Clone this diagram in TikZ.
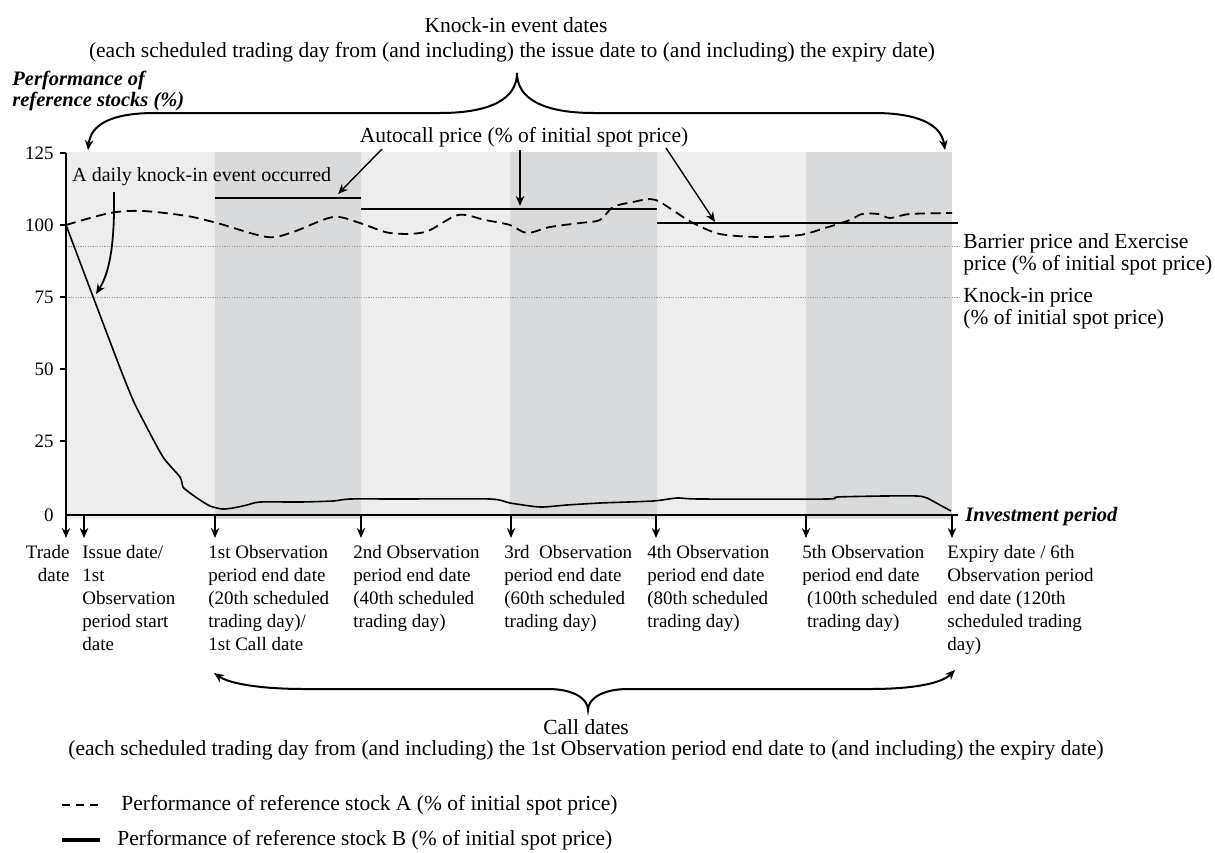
\documentclass[tikz,border=0pt]{standalone}
\usepackage{fontspec}
\setmainfont{Liberation Serif}
\usetikzlibrary{arrows.meta}
\definecolor{bglight}{HTML}{EDEDED}
\definecolor{bgdark}{HTML}{D9DADC}
\definecolor{dotgray}{HTML}{9A9A9A}
\begin{document}
\begin{tikzpicture}[x=0.5pt,y=-0.5pt,
  tip/.style={-{Stealth[length=5pt,width=4.2pt]}},
  bigtip/.style={line width=1pt,{Stealth[length=5pt,width=4.2pt]}-{Stealth[length=5pt,width=4.2pt]}},
  axisline/.style={line width=1pt},
  autoline/.style={line width=0.6pt},
  dotline/.style={dotgray,line width=0.45pt,dash pattern=on 0.6pt off 0.6pt},
  stockA/.style={line width=0.9pt,dash pattern=on 5pt off 2.8pt},
  stockB/.style={line width=0.8pt},
  toptext/.style={inner sep=0pt,font=\fontsize{10.75}{11.5}\selectfont},
  datelbl/.style={inner sep=0pt,anchor=north west,align=left,font=\fontsize{9.5}{11.5}\selectfont},
  ylbl/.style={inner sep=0pt,anchor=east,font=\fontsize{9.5}{11.5}\selectfont},
  bititle/.style={inner sep=0pt,font=\fontsize{10.25}{8.6}\selectfont\bfseries\itshape}]
\useasboundingbox (0,0) rectangle (1215,852);
% backgrounds
\fill[bglight] (66,152) rectangle (952,519);
\fill[bgdark] (215,152) rectangle (361,519);
\fill[bgdark] (510,152) rectangle (657,519);
\fill[bgdark] (806,152) rectangle (952,519);
% dotted price levels
\coordinate (barL) at (66,246);
\coordinate (barR) at (961,246);
\coordinate (kiL) at (66,297);
\coordinate (kiR) at (961,297);
\draw[dotline] (barL) -- (barR);
\draw[dotline] (kiL) -- (kiR);
% autocall lines
\coordinate (ac1a) at (215,198); \coordinate (ac1b) at (361,198);
\coordinate (ac2a) at (361,209); \coordinate (ac2b) at (657,209);
\coordinate (ac3a) at (657,223); \coordinate (ac3b) at (958,223);
\draw[autoline] (ac1a) -- (ac1b);
\draw[autoline] (ac2a) -- (ac2b);
\draw[autoline] (ac3a) -- (ac3b);
% stock A (dashed)
\draw[stockA] plot[smooth,tension=0.5] coordinates {(66,225) (110,213) (143,211) (187,216) (217,223) (267,237) (293,232) (333,217) (360,223) (390,233) (425,232) (458,215) (485,220) (510,225) (527,233) (550,227) (580,223) (600,220) (613,207) (633,202) (650,199) (660,202) (677,213) (693,223) (720,234) (760,237) (800,235) (825,228) (850,220) (862,214) (878,214) (890,218) (910,214) (952,213)};
% stock B (solid)
\draw[stockB] plot[smooth,tension=0.4] coordinates {(66,225) (117,360) (133,400) (143,420) (163,457) (180,477) (183,487) (190,493) (200,500) (210,506) (222,509) (233,508) (247,505) (260,502) (300,502) (333,501) (350,499) (400,499) (490,499) (510,503) (540,507) (567,505) (600,503) (653,501) (677,498) (700,499) (827,499) (837,497) (883,496) (917,496) (927,498) (940,505) (951,511)};
% axes
\coordinate (yaxTop) at (66,153);
\coordinate (origin) at (66,515);
\coordinate (xaxEnd) at (958,515);
\draw[axisline] (yaxTop) -- (origin) -- (xaxEnd);
\foreach \v/\yy in {125/153,100/225,75/297,50/369,25/441}{
  \coordinate (tk\v) at (60,\yy);
  \coordinate (tka\v) at (66,\yy);
  \draw[line width=0.8pt] (tk\v) -- (tka\v);
  \node[ylbl] (yl\v) at (54,\yy) {\v};
}
\node[ylbl] (yl0) at (54,515) {0};
\node[bititle,anchor=west] (invp) at (965,517) {Investment period};
\node[bititle,anchor=north west,align=left] (perf) at (12,71) {Performance of\\reference stocks (\%)};
% date arrows
\foreach \n/\xx in {0/66,1/84,2/215,3/361,4/511,5/656,6/806,7/952}{
  \coordinate (da\n) at (\xx,515);
  \coordinate (db\n) at (\xx,538);
  \draw[tip,line width=0.9pt] (da\n) -- (db\n);
}
% date labels
\node[datelbl,anchor=north east,align=right] (ltrade) at (70,545) {Trade\\date};
\node[datelbl] (lissue) at (82,545) {Issue date/\\1st\\Observation\\period start\\date};
\node[datelbl] (lobs1) at (208,545) {1st Observation\\period end date\\(20th scheduled\\trading day)/\\1st Call date};
\node[datelbl] (lobs2) at (353,545) {2nd Observation\\period end date\\(40th scheduled\\trading day)};
\node[datelbl] (lobs3) at (504,545) {3rd\hspace{0.25em} Observation\\period end date\\(60th scheduled\\trading day)};
\node[datelbl] (lobs4) at (647,545) {4th Observation\\period end date\\(80th scheduled\\trading day)};
\node[datelbl] (lobs5) at (802,545) {5th Observation\\period end date\\\hspace*{0.25em}(100th scheduled\\\hspace*{0.25em}trading day)};
\node[datelbl] (lexp) at (947,545) {Expiry date / 6th\\Observation period\\end date (120th\\scheduled trading\\day)};
% right labels
\node[toptext,anchor=north west,align=left,font=\fontsize{10.75}{11}\selectfont] (lbar) at (963,233) {Barrier price and Exercise\\price (\% of initial spot price)};
\node[toptext,anchor=north west,align=left,font=\fontsize{10.75}{9.6}\selectfont] (lki) at (963,287) {Knock-in price\\(\% of initial spot price)};
% knock-in event dates brace
\node[toptext] (kt1) at (516,25) {Knock-in event dates};
\node[toptext] (kt2) at (512,52) {(each scheduled trading day from (and including) the issue date to (and including) the expiry date)};
\coordinate (kbL) at (88,150);
\coordinate (kbT) at (517,73);
\coordinate (kbR) at (945,150);
\draw[bigtip] (kbL) .. controls (91,124) and (112,113) .. (155,113) -- (440,113) .. controls (492,113) and (517,98) .. (kbT) .. controls (517,98) and (542,113) .. (594,113) -- (874,113) .. controls (917,113) and (941,124) .. (kbR);
% autocall label and arrows
\node[toptext] (acl) at (524,137) {Autocall price (\% of initial spot price)};
\coordinate (aa1) at (382,149); \coordinate (ab1) at (338,194);
\coordinate (aa2) at (520,150); \coordinate (ab2) at (520,206);
\coordinate (aa3) at (666,148); \coordinate (ab3) at (715,222);
\draw[tip,line width=0.7pt] (aa1) -- (ab1);
\draw[tip,line width=1pt] (aa2) -- (ab2);
\draw[tip,line width=0.7pt] (aa3) -- (ab3);
% knock-in event annotation
\node[toptext,anchor=west,font=\fontsize{10}{11.5}\selectfont] (dki) at (72,177) {A daily knock-in event occurred};
\coordinate (dka) at (114,192);
\coordinate (dkb) at (96,294);
\draw[tip,line width=0.9pt] (dka) .. controls (115,250) and (108,275) .. (dkb);
% call dates brace
\coordinate (cbL) at (214,673);
\coordinate (cbT) at (588,710);
\coordinate (cbR) at (955,670);
\draw[bigtip] (cbL) .. controls (230,684) and (262,689) .. (305,689) -- (548,689) .. controls (574,689) and (588,699) .. (cbT) .. controls (588,699) and (602,689) .. (628,689) -- (870,689) .. controls (915,689) and (942,683) .. (cbR);
\node[toptext] (cd1) at (586,727) {Call dates};
\node[toptext] (cd2) at (586,750) {(each scheduled trading day from (and including) the 1st Observation period end date to (and including) the expiry date)};
% legend
\coordinate (lgA1) at (62,805); \coordinate (lgA2) at (99,805);
\coordinate (lgB1) at (62,840); \coordinate (lgB2) at (100,840);
\draw[line width=0.9pt,dash pattern=on 4pt off 3pt] (lgA1) -- (lgA2);
\draw[line width=2pt] (lgB1) -- (lgB2);
\node[toptext,anchor=west] (lgAt) at (121,805) {Performance of reference stock A (\% of initial spot price)};
\node[toptext,anchor=west] (lgBt) at (117,840) {Performance of reference stock B (\% of initial spot price)};
\end{tikzpicture}
\end{document}
